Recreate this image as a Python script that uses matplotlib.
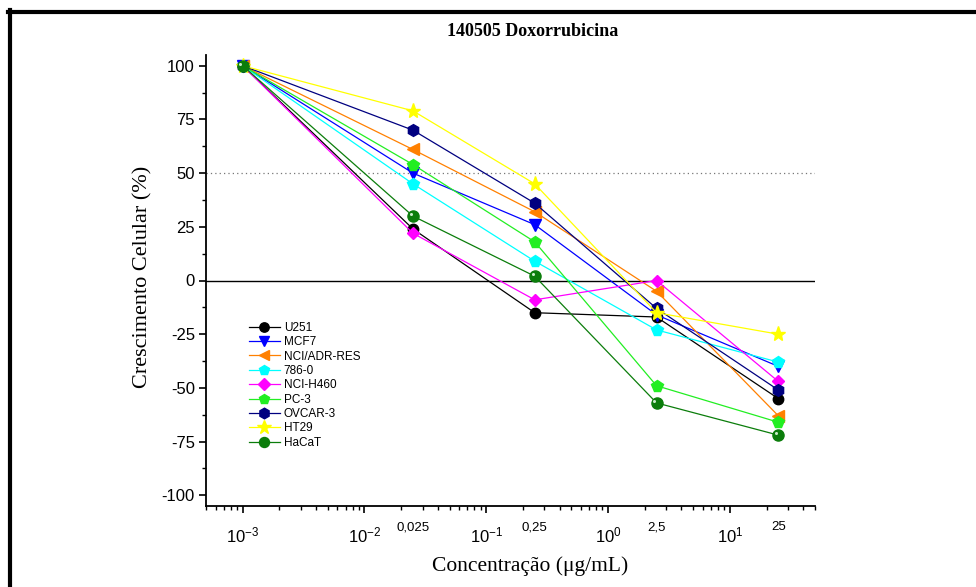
import matplotlib

matplotlib.use("Agg")
import matplotlib.pyplot as plt
from matplotlib.lines import Line2D
from matplotlib.ticker import FixedLocator, LogLocator, MultipleLocator, NullFormatter
from matplotlib.transforms import ScaledTranslation

plt.rcParams.update(
    {
        "font.family": "Liberation Sans",
        "axes.unicode_minus": False,
        "mathtext.fontset": "custom",
        "mathtext.rm": "Liberation Sans",
        "mathtext.it": "Liberation Sans:italic",
        "mathtext.bf": "Liberation Sans:bold",
    }
)

# concentrations (ug/mL)
conc = [0.001, 0.025, 0.25, 2.5, 25]
conc_labels = ["0,025", "0,25", "2,5", "25"]

lines_names = ["U251", "MCF7", "NCI/ADR-RES", "786-0", "NCI-H460", "PC-3", "OVCAR-3", "HT29", "HaCaT"]
u251 = [100, 24, -15, -17, -55]
mcf7 = [100, 50, 26, -16, -40]
nci_adr = [100, 61, 32, -5, -63]
c786 = [100, 45, 9, -23, -38]
nci_h460 = [100, 22, -9, 0, -47]
pc3 = [100, 54, 18, -49, -66]
ovcar3 = [100, 70, 36, -13, -51]
ht29 = [100, 79, 45, -15, -25]
hacat = [100, 30, 2, -57, -72]
series = [u251, mcf7, nci_adr, c786, nci_h460, pc3, ovcar3, ht29, hacat]

colors = ["#000000", "#0000ff", "#ff8000", "#00ffff", "#ff00ff", "#22ee22", "#000080", "#ffff00", "#0b7d0b"]
markers = ["o", "v", "<", "p", "D", "p", "h", "*", "o"]
msizes = [7.5, 8.5, 8.5, 8.5, 6.5, 8.5, 8.5, 11, 8]

fig = plt.figure(figsize=(9.76, 5.87), dpi=100)
ax = fig.add_axes([206 / 976, 1 - 506 / 587, (815 - 206) / 976, (506 - 55) / 587])

ax.axhline(0, color="black", lw=1.0, zorder=1)
ax.axhline(50, color="#777777", lw=0.9, ls=(0, (1, 2.5)), zorder=1)

handles = []
for name, vals, c, m, ms in zip(lines_names, series, colors, markers, msizes):
    (h,) = ax.plot(conc, vals, color=c, marker=m, ms=ms, mec=c, mfc=c, lw=0.9, label=name, zorder=3)
    handles.append(h)

# highlight on the HaCaT spheres
hl = ax.transData + ScaledTranslation(-1.6 / 72, 1.6 / 72, fig.dpi_scale_trans)
ax.plot(conc, hacat, ls="none", marker="o", ms=2.2, mfc="#c8ecc8", mec="none", transform=hl, zorder=4)

ax.set_xscale("log")
ax.set_xlim(5e-4, 50)
ax.set_ylim(-105, 105)

ax.xaxis.set_major_locator(FixedLocator([1e-3, 1e-2, 1e-1, 1e0, 1e1]))
ax.set_xticklabels([r"$\mathregular{10^{-3}}$", r"$\mathregular{10^{-2}}$", r"$\mathregular{10^{-1}}$",
                    r"$\mathregular{10^{0}}$", r"$\mathregular{10^{1}}$"])
ax.xaxis.set_minor_locator(LogLocator(base=10, subs=range(2, 10), numticks=20))
ax.xaxis.set_minor_formatter(NullFormatter())

ax.yaxis.set_major_locator(MultipleLocator(25))
ax.yaxis.set_minor_locator(MultipleLocator(12.5))

for s in ["top", "right"]:
    ax.spines[s].set_visible(False)
for s in ["left", "bottom"]:
    ax.spines[s].set_linewidth(1.3)

ax.tick_params(axis="both", which="major", direction="out", length=5, width=1.2, labelsize=12)
ax.tick_params(axis="both", which="minor", direction="out", length=3, width=1.0)
ax.tick_params(axis="x", which="major", pad=9)
ax.tick_params(axis="y", which="major", pad=3)

xt = ax.get_xaxis_transform()
for xv, lab in zip(conc[1:], conc_labels):
    ax.text(xv, -0.047, lab, transform=xt, ha="center", va="center", fontsize=9.5)

fig.text(533 / 976, 1 - 32 / 587, "140505 Doxorrubicina", fontfamily="Liberation Serif",
         fontweight="bold", fontsize=13, ha="center", va="center")
ax.set_ylabel("Crescimento Celular (%)", fontfamily="Liberation Serif", fontsize=16)
ax.yaxis.set_label_coords((143 - 206) / 609, (506 - 277) / 451)
ax.set_xlabel("Concentração (μg/mL)", fontfamily="Liberation Serif", fontsize=15.5)
ax.xaxis.set_label_coords((530 - 206) / 609, -(566 - 506) / 451)
ax.xaxis.label.set_va("center")
ax.yaxis.label.set_va("center")

leg = fig.legend(
    handles=handles,
    loc="upper left",
    bbox_to_anchor=(243 / 976, 1 - 316 / 587),
    frameon=False,
    fontsize=8.5,
    labelspacing=0.2,
    handlelength=2.6,
    handletextpad=0.35,
    borderpad=0,
)
for lh in leg.legend_handles:
    lh.set_markersize(lh.get_markersize() * 0.9)

# page frame
fig.add_artist(Line2D([8 / 976, 1], [1 - 12 / 587, 1 - 12 / 587], color="black", lw=3.0, transform=fig.transFigure))
fig.add_artist(Line2D([10 / 976, 10 / 976], [0, 1 - 10 / 587], color="black", lw=3.0, transform=fig.transFigure))

fig.savefig("out.png", dpi=100, facecolor="white")
